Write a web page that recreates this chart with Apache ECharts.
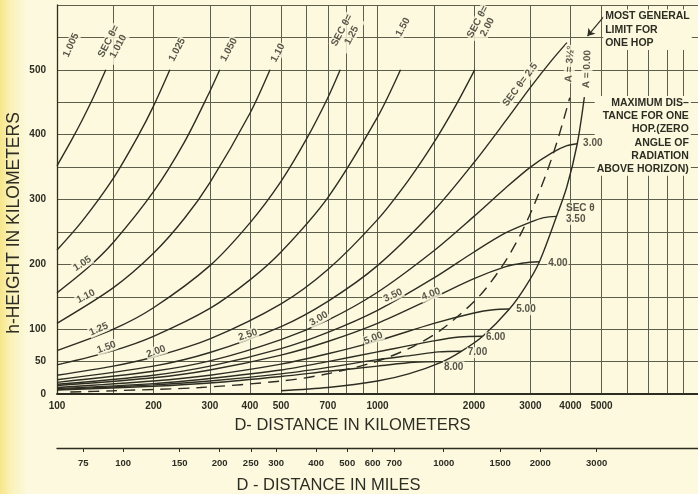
<!DOCTYPE html>
<html>
<head>
<meta charset="utf-8">
<script src="https://cdn.jsdelivr.net/npm/echarts@6.0.0/dist/echarts.min.js"></script>
<style>
html,body{margin:0;padding:0;background:#fcf9df}
#chart{width:698px;height:494px}
</style>
</head>
<body>
<div id="chart"></div>
<script>
// D = distance in km (log), h = height in km
const kmLabels = [100,200,300,400,500,700,1000,2000,3000,4000,5000];
const kmGrid = [100,150,200,300,400,500,600,700,800,900,1000,1500,2000,3000,4000,5000,6000,7000,8000,9000,10000];
const mileLabels = [75,100,150,200,250,300,400,500,600,700,1000,1500,2000,3000];
const heightLabels = [0,50,100,200,300,400,500];

// curves of constant sec(phi)
const sec1005 = [[100,500]];
const sec1010 = [[100,352],[110,388],[120,423],[130,458],[142,500]];
const sec1025 = [[100,222],[120,267],[150,333],[180,400],[200,444],[225,500]];
const sec1050 = [[100,156],[125,195],[150,234],[200,312],[250,389],[300,467],[322,500]];
const sec110 = [[100,109],[150,164],[200,217],[250,271],[300,326],[400,433],[462,500]];
const sec125 = [[100,67],[150,100],[200,133],[300,198],[400,264],[500,328],[600,393],[700,457],[765,500]];
const sec150 = [[100,45],[150,67],[200,89],[300,132],[400,176],[500,219],[700,303],[1000,427],[1180,500]];
const sec200 = [[100,29],[150,43],[200,57],[300,85],[500,139],[700,192],[1000,269],[1250,330],[1500,388],[1750,444],[2010,500]];
const sec250 = [[100,22],[200,43],[300,64],[500,104],[700,143],[1000,198],[1500,283],[2000,357],[2500,420],[3000,473],[3500,515],[3900,542]];
const sec300 = [[100,18],[200,35],[300,51],[500,84],[700,114],[1000,157],[1500,221],[2000,274],[2500,317],[3000,350],[3500,372],[3900,383],[4200,386]];
const sec350 = [[100,15],[200,29],[300,43],[500,70],[700,95],[1000,129],[1500,179],[2000,219],[2500,248],[3000,265],[3300,272],[3620,274]];
const sec400 = [[100,13],[200,25],[300,37],[500,60],[700,81],[1000,109],[1500,149],[2000,178],[2500,196],[2850,202],[3200,204]];
const sec500 = [[100,10],[200,20],[300,29],[500,46],[700,62],[1000,82],[1500,109],[2000,125],[2300,130],[2580,131]];
const sec600 = [[100,8.5],[200,16],[300,24],[500,37],[700,50],[1000,65],[1500,82],[1800,88],[2130,89]];
const sec700 = [[100,7],[200,14],[300,20],[500,31],[700,41],[1000,53],[1300,60],[1550,65],[1830,66]];
const sec800 = [[100,6],[200,12],[300,17],[500,27],[700,35],[1000,43],[1300,49],[1600,50]];
// limiting curves
const zeroAngle = [[500,5],[700,10],[1000,20],[1250,31],[1600,50],[1830,66],[2130,89],[2580,131],[2900,166],[3200,204],[3620,274],[3900,320],[4200,386],[4420,458]];
const threeHalfDeg = [[110,3],[150,5],[280,10],[500,20],[680,30],[990,50],[1300,74],[1590,100],[2070,150],[2470,200],[2820,250],[3130,300],[3420,350],[3690,400],[3980,457]];

const INK = '#2d2d22';
const GRID = '#5e5e4c';
const PAPER = '#fcf9df';
const FONT = 'Liberation Sans';
const MI = 1.609344;

// annotation text: [text, D, h, rotate, align]
const notes = [
  ['1.005',110.6,538,65,'center'],
  ['SEC θ=\n1.010',150,540,62,'center'],
  ['1.025',237,531,62,'center'],
  ['1.050',344,531,62,'center'],
  ['1.10',489,526,62,'center'],
  ['SEC θ=\n1.25',802,557,62,'center'],
  ['1.50',1201,566,62,'center'],
  ['SEC θ=\n2.00',2127,570,62,'center'],
  ['SEC θ= 2.5',2787,477,53,'center'],
  ['A = 3½°',3979,509,86,'center'],
  ['A = 0.00',4506,501,88,'center'],
  ['3.00',4349,386,0,'left'],
  ['SEC θ\n3.50',3846,278,0,'left'],
  ['4.00',3383,202,0,'left'],
  ['5.00',2690,130,0,'left'],
  ['6.00',2164,87.5,0,'left'],
  ['7.00',1899,63.7,0,'left'],
  ['8.00',1600,42,0,'left'],
  ['1.05',120,201,33,'center'],
  ['1.10',123,150.5,27,'center'],
  ['1.25',135,100,24,'center'],
  ['1.50',142.7,72,20,'center'],
  ['2.00',203.7,65.6,20,'center'],
  ['2.50',394,91,18,'center'],
  ['3.00',656,116,30,'center'],
  ['3.50',1118,152,25,'center'],
  ['4.00',1468,154,20,'center'],
  ['5.00',970,86,22,'center']
];

const chart = echarts.init(document.getElementById('chart'));

function curve(name, data, dashed) {
  return {
    name: name, type: 'line', data: data, smooth: 0.3, symbol: 'none', silent: true,
    lineStyle: {color: INK, width: 1.4, type: dashed ? [11, 7] : 'solid'},
    z: 3
  };
}

const series = [
  curve('1.005', sec1005), curve('1.010', sec1010), curve('1.025', sec1025),
  curve('1.050', sec1050), curve('1.10', sec110), curve('1.25', sec125),
  curve('1.50', sec150), curve('2.00', sec200), curve('2.5', sec250),
  curve('3.00', sec300), curve('3.50', sec350), curve('4.00', sec400),
  curve('5.00', sec500), curve('6.00', sec600), curve('7.00', sec700),
  curve('8.00', sec800), curve('A = 0.00', zeroAngle), curve('A = 3½°', threeHalfDeg, true)
];

series.push({
  name: 'notes', type: 'scatter', symbolSize: 0, silent: true, z: 5,
  data: notes.map(n => ({
    value: [n[1], n[2]],
    label: {
      show: true, position: 'inside', formatter: n[0], rotate: n[3], align: n[4],
      verticalAlign: 'middle', color: INK, fontFamily: FONT, fontWeight: 'bold',
      fontSize: 10, lineHeight: 11, backgroundColor: PAPER, padding: [0, 1]
    }
  })),
  markPoint: {
    symbolSize: 0, silent: true,
    data: [
      {coord: [5060, 562], label: {show: true, position: 'inside', align: 'left', verticalAlign: 'middle',
        formatter: 'MOST GENERAL\nLIMIT FOR\nONE HOP', color: INK, fontFamily: FONT, fontWeight: 'bold',
        fontSize: 10.5, lineHeight: 13.5, backgroundColor: PAPER, padding: [0, 2]}},
      {coord: [9500, 398], label: {show: true, position: 'inside', align: 'right', verticalAlign: 'middle',
        formatter: 'MAXIMUM DIS–\nTANCE FOR ONE\nHOP.(ZERO\nANGLE OF\nRADIATION\nABOVE HORIZON)',
        color: INK, fontFamily: FONT, fontWeight: 'bold', fontSize: 10.5, lineHeight: 13.3,
        backgroundColor: PAPER, padding: [0, 2]}}
    ]
  },
  markLine: {
    silent: true, symbol: ['none', 'arrow'], symbolSize: 7,
    lineStyle: {color: INK, width: 1.2, type: 'solid', curveness: 0.35},
    label: {show: false},
    data: [[{coord: [5160, 586]}, {coord: [4520, 552]}]]
  }
});

chart.setOption({
  animation: false,
  backgroundColor: new echarts.graphic.LinearGradient(0, 0, 1, 0, [
    {offset: 0, color: '#f6e68a'},
    {offset: 0.015, color: '#faf1b8'},
    {offset: 0.04, color: PAPER},
    {offset: 1, color: PAPER}
  ]),
  grid: {left: 57, right: 0, top: 5, bottom: 100, outerBoundsMode: 'none', containLabel: false},
  xAxis: [{
    type: 'log', logBase: 10, min: 100, max: 10000,
    axisLine: {show: true, onZero: false, lineStyle: {color: INK, width: 1.8}},
    axisTick: {show: false, customValues: kmGrid},
    splitLine: {show: true, lineStyle: {color: GRID, width: 1}},
    axisLabel: {customValues: kmLabels, color: INK, fontFamily: FONT, fontWeight: 'bold',
      fontSize: 10, margin: 7, formatter: v => String(Math.round(v))},
    name: 'D- DISTANCE IN KILOMETERS', nameLocation: 'middle', nameGap: 23, nameMoveOverlap: false,
    nameTextStyle: {color: INK, fontFamily: FONT, fontSize: 16.5, padding: [0, 50, 0, 0]}
  }, {
    type: 'log', logBase: 10, min: 100 / MI, max: 10000 / MI, position: 'bottom', offset: 54,
    axisLine: {show: true, onZero: false, lineStyle: {color: INK, width: 1.3}},
    axisTick: {show: true, customValues: mileLabels, length: 4, lineStyle: {color: INK}},
    splitLine: {show: false},
    axisLabel: {customValues: mileLabels, color: INK, fontFamily: FONT, fontWeight: 'bold',
      fontSize: 9.5, margin: 10, formatter: v => String(Math.round(v))},
    name: 'D - DISTANCE IN MILES', nameLocation: 'middle', nameGap: 29, nameMoveOverlap: false,
    nameTextStyle: {color: INK, fontFamily: FONT, fontSize: 16.5, padding: [0, 98, 0, 0]}
  }],
  yAxis: {
    type: 'value', min: 0, max: 600, interval: 50,
    axisLine: {show: true, lineStyle: {color: INK, width: 1.3}},
    axisTick: {show: false},
    splitLine: {show: true, lineStyle: {color: GRID, width: 1}},
    axisLabel: {color: INK, fontFamily: FONT, fontWeight: 'bold', fontSize: 10, margin: 11,
      formatter: v => heightLabels.indexOf(v) >= 0 ? String(v) : ''},
    name: 'h-HEIGHT IN KILOMETERS', nameLocation: 'middle', nameGap: 34, nameMoveOverlap: false,
    nameTextStyle: {color: INK, fontFamily: FONT, fontSize: 17.5, padding: [0, 47, 0, 0]}
  },
  series: series
});
</script>
</body>
</html>
